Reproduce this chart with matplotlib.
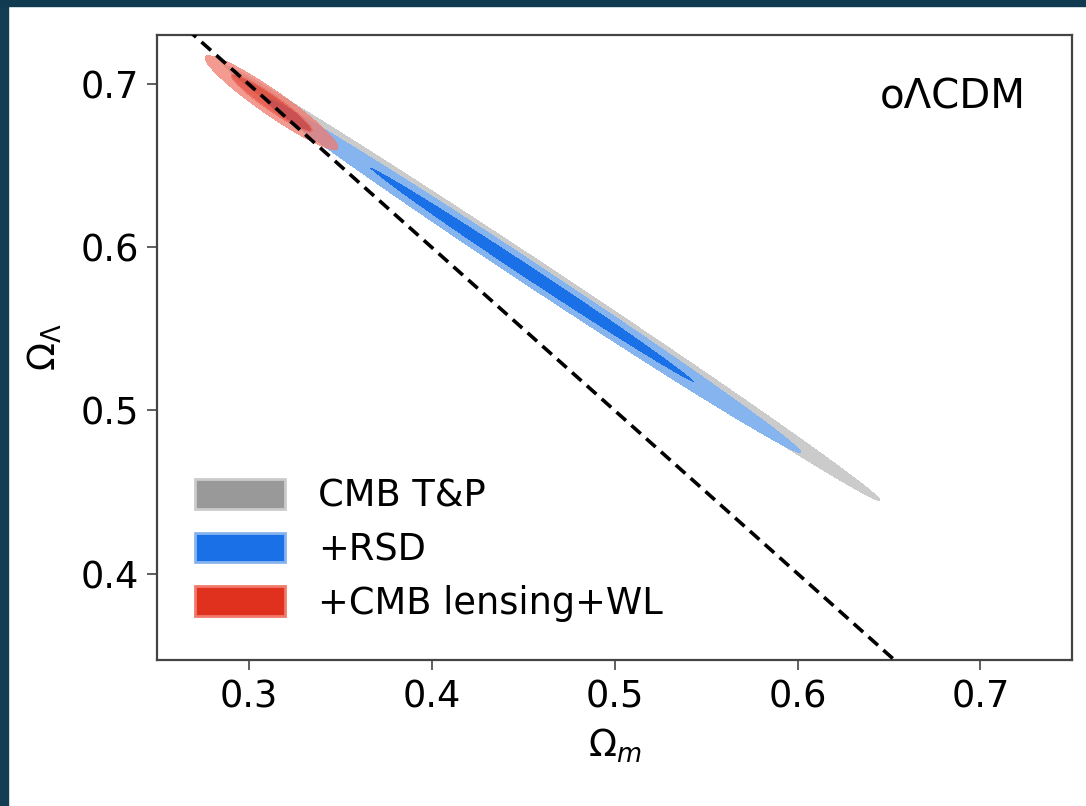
import numpy as np
import matplotlib
matplotlib.use("Agg")
import matplotlib.pyplot as plt
from matplotlib.patches import Rectangle

# contour summaries (gaussian approximation)
labels = ["CMB T&P", "+RSD", "+CMB lensing+WL"]
om_mean = [0.466, 0.455, 0.3126]
ol_mean = [0.5780, 0.583, 0.6885]
slope = [-0.743, -0.740, -0.754]
sig_along = [0.0720, 0.059, 0.0146]
sig_perp = [0.0033, 0.0033, 0.0036]

inner_colors = ["#999999", "#1a70e6", "#e0301e"]
outer_colors = ["#cbcbcb", "#86b4ef", "#f07a6c"]
alphas = [1.0, 1.0, 0.75]

xlim = (0.25, 0.75)
ylim = (0.347, 0.73)
xticks = [0.3, 0.4, 0.5, 0.6, 0.7]
yticks = [0.4, 0.5, 0.6, 0.7]

FS = 26.5

fig = plt.figure(figsize=(10.86, 8.06), dpi=100)
ax = fig.add_axes([0.1446, 0.1811, 0.8425, 0.7755])

gx = np.linspace(xlim[0], xlim[1], 1200)
gy = np.linspace(ylim[0], ylim[1], 1000)
X, Y = np.meshgrid(gx, gy)

for i in range(len(labels)):
    u = X - om_mean[i]
    v = Y - (ol_mean[i] + slope[i] * u)
    chi2 = (u / sig_along[i]) ** 2 + (v / sig_perp[i]) ** 2
    ax.contourf(X, Y, chi2, levels=[0, 2.30, 6.18],
                colors=[inner_colors[i], outer_colors[i]],
                alpha=alphas[i], zorder=2 + i)

# flat universe line
lx = np.array(xlim)
ax.plot(lx, 1 - lx, color="black", ls=(0, (3.5, 2)), lw=2.6, zorder=10)

ax.set_xlim(xlim)
ax.set_ylim(ylim)
ax.set_xticks(xticks)
ax.set_yticks(yticks)
ax.set_xticklabels([f"{t:.1f}" for t in xticks])
ax.set_yticklabels([f"{t:.1f}" for t in yticks])
ax.tick_params(labelsize=FS, length=7, width=1.2, color="#444444", pad=6)
for s in ax.spines.values():
    s.set_color("#444444")
    s.set_linewidth(1.6)

ax.set_xlabel(r"$\Omega_m$", fontsize=FS, labelpad=8)
ax.set_ylabel(r"$\Omega_\Lambda$", fontsize=FS, labelpad=12)

ax.text(0.95, 0.90, "o\u039bCDM", transform=ax.transAxes, fontsize=29,
        ha="right", va="center")

handles = [Rectangle((0, 0), 1, 1, facecolor=inner_colors[i],
                     edgecolor=outer_colors[i], lw=2) for i in range(3)]
ax.legend(handles, labels, loc="lower left", bbox_to_anchor=(0.005, 0.008),
          frameon=False, fontsize=FS, handlelength=2.45, handleheight=0.85,
          labelspacing=0.45, handletextpad=0.9)

# dark frame strips from the source screenshot
fig.patches.append(Rectangle((0, 0), 8 / 1086, 1, transform=fig.transFigure,
                             color="#123d52", zorder=0))
fig.patches.append(Rectangle((0, 1 - 6 / 806), 1, 6 / 806, transform=fig.transFigure,
                             color="#0f3a4f", zorder=0))

fig.savefig("out.png", dpi=100)
